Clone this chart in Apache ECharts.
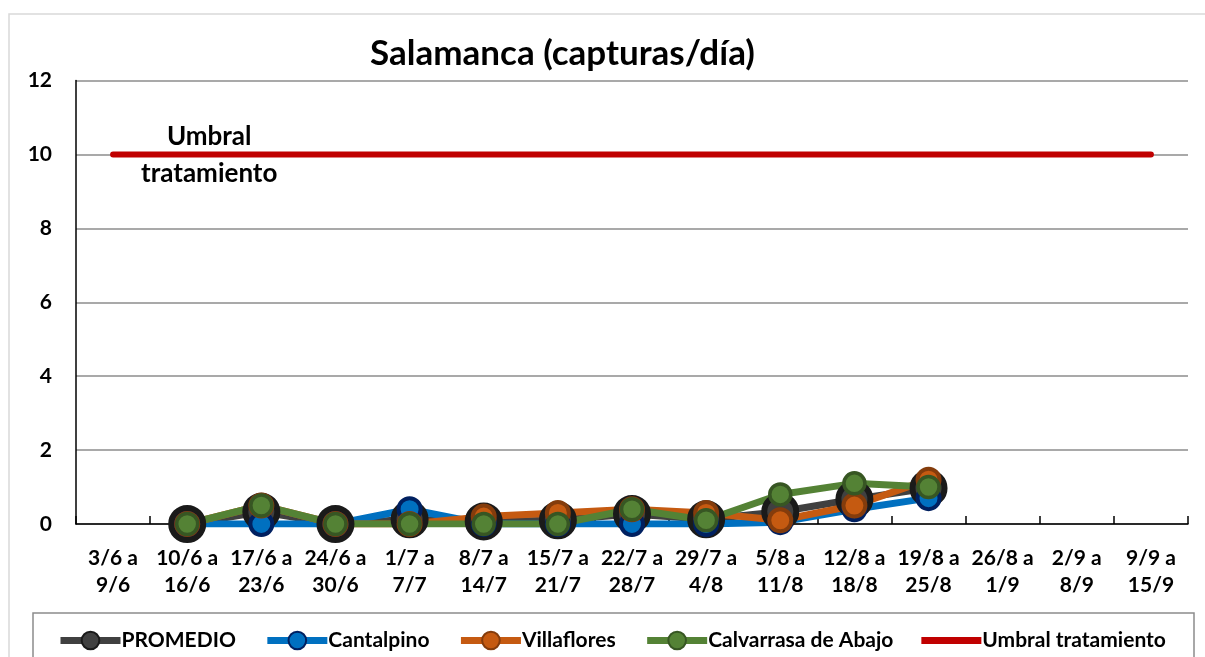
<!DOCTYPE html>
<html>
<head>
<meta charset="utf-8">
<script src="https://cdn.jsdelivr.net/npm/echarts@6/dist/echarts.min.js"></script>
<style>
html,body{margin:0;padding:0;background:#fff;}
#chart{width:1205px;height:657px;}
</style>
</head>
<body>
<div id="chart"></div>
<script>
const categories = ['3/6 a\n9/6','10/6 a\n16/6','17/6 a\n23/6','24/6 a\n30/6','1/7 a\n7/7','8/7 a\n14/7','15/7 a\n21/7','22/7 a\n28/7','29/7 a\n4/8','5/8 a\n11/8','12/8 a\n18/8','19/8 a\n25/8','26/8 a\n1/9','2/9 a\n8/9','9/9 a\n15/9'];
const promedio    = [null, 0, 0.33, 0, 0.13, 0.07, 0.1, 0.27, 0.13, 0.33, 0.67, 0.97, null, null, null];
const cantalpino  = [null, 0, 0,    0, 0.4,  0,    0,   0,    0,    0.05, 0.4,  0.7,  null, null, null];
const villaflores = [null, 0, 0.5,  0, 0,    0.2,  0.3, 0.4,  0.3,  0.1,  0.5,  1.2,  null, null, null];
const calvarrasa  = [null, 0, 0.5,  0, 0,    0,    0,   0.4,  0.1,  0.8,  1.1,  1.0,  null, null, null];
const umbral      = [10, 10, 10, 10, 10, 10, 10, 10, 10, 10, 10, 10, 10, 10, 10];
const umbralLabel = {category: 1, text: 'Umbral\ntratamiento'};
const yTicks = {min: 0, max: 12, interval: 2};

const FONT = 'Lato';
function lineSeries(name, data, color, fill, border, size, bw, lw) {
  return {
    name, type: 'line', data,
    symbol: 'circle', symbolSize: size,
    lineStyle: {color, width: lw},
    itemStyle: {color: fill, borderColor: border, borderWidth: bw},
    emphasis: {disabled: true},
    animation: false
  };
}

const chart = echarts.init(document.getElementById('chart'));
chart.setOption({
  backgroundColor: '#fff',
  textStyle: {fontFamily: FONT},
  title: {
    text: 'Salamanca (capturas/día)', left: 365, top: 31,
    textStyle: {fontFamily: FONT, fontWeight: 'bold', fontSize: 35, color: '#000'}
  },
  graphic: [
    {type: 'rect', shape: {x: 9, y: 14, width: 1300, height: 700}, style: {fill: 'none', stroke: '#d9d9d9', lineWidth: 1.5}, silent: true, z: -10},
    {type: 'rect', shape: {x: 33, y: 613, width: 1161, height: 60}, style: {fill: 'none', stroke: '#8c8c8c', lineWidth: 1.5}, silent: true, z: -10}
  ],
  legend: {
    left: 52, top: 625, itemWidth: 60, itemHeight: 22, itemGap: 28,
    lineStyle: {width: 7},
    textStyle: {fontFamily: FONT, fontWeight: 'bold', fontSize: 21, color: '#000', padding: [0, 0, 0, -4]},
    data: ['PROMEDIO','Cantalpino','Villaflores','Calvarrasa de Abajo',
           {name: 'Umbral tratamiento', icon: 'path://M0,0 L60,0 L60,7 L0,7 Z'}]
  },
  grid: {left: 76, right: 17, top: 80.5, bottom: 133},
  xAxis: {
    type: 'category', data: categories, boundaryGap: true,
    axisLine: {lineStyle: {color: '#000', width: 1.5}},
    axisTick: {show: true, inside: true, length: 8, interval: 0, lineStyle: {color: '#000', width: 1.5}},
    axisLabel: {interval: 0, margin: 21, fontFamily: FONT, fontWeight: 'bold', fontSize: 21, color: '#000', lineHeight: 27}
  },
  yAxis: {
    type: 'value', min: yTicks.min, max: yTicks.max, interval: yTicks.interval,
    axisLine: {show: true, lineStyle: {color: '#000', width: 1.5}},
    axisTick: {show: false},
    splitLine: {lineStyle: {color: '#8c8c8c', width: 1.5}},
    axisLabel: {margin: 24, fontFamily: FONT, fontWeight: 'bold', fontSize: 21, color: '#000'}
  },
  series: [
    lineSeries('PROMEDIO', promedio, '#404040', '#404040', '#1a1a1a', 32, 6, 7),
    lineSeries('Cantalpino', cantalpino, '#0070C0', '#0070C0', '#002060', 22, 4, 7),
    lineSeries('Villaflores', villaflores, '#C55A11', '#C55A11', '#843C0C', 22, 4, 7),
    lineSeries('Calvarrasa de Abajo', calvarrasa, '#548235', '#548235', '#375623', 21, 3.5, 7),
    {
      name: 'Umbral tratamiento', type: 'line', data: umbral, symbol: 'none',
      lineStyle: {color: '#C00000', width: 6, cap: 'round'},
      itemStyle: {color: '#C00000'},
      emphasis: {disabled: true}, animation: false,
      markPoint: {
        symbol: 'circle', symbolSize: 0, silent: true, animation: false,
        data: [{coord: [umbralLabel.category, umbral[umbralLabel.category]]}],
        label: {show: true, position: 'inside', offset: [22, 1], formatter: umbralLabel.text,
                fontFamily: FONT, fontWeight: 'bold', fontSize: 26, color: '#000', lineHeight: 37}
      }
    }
  ]
});
</script>
</body>
</html>
